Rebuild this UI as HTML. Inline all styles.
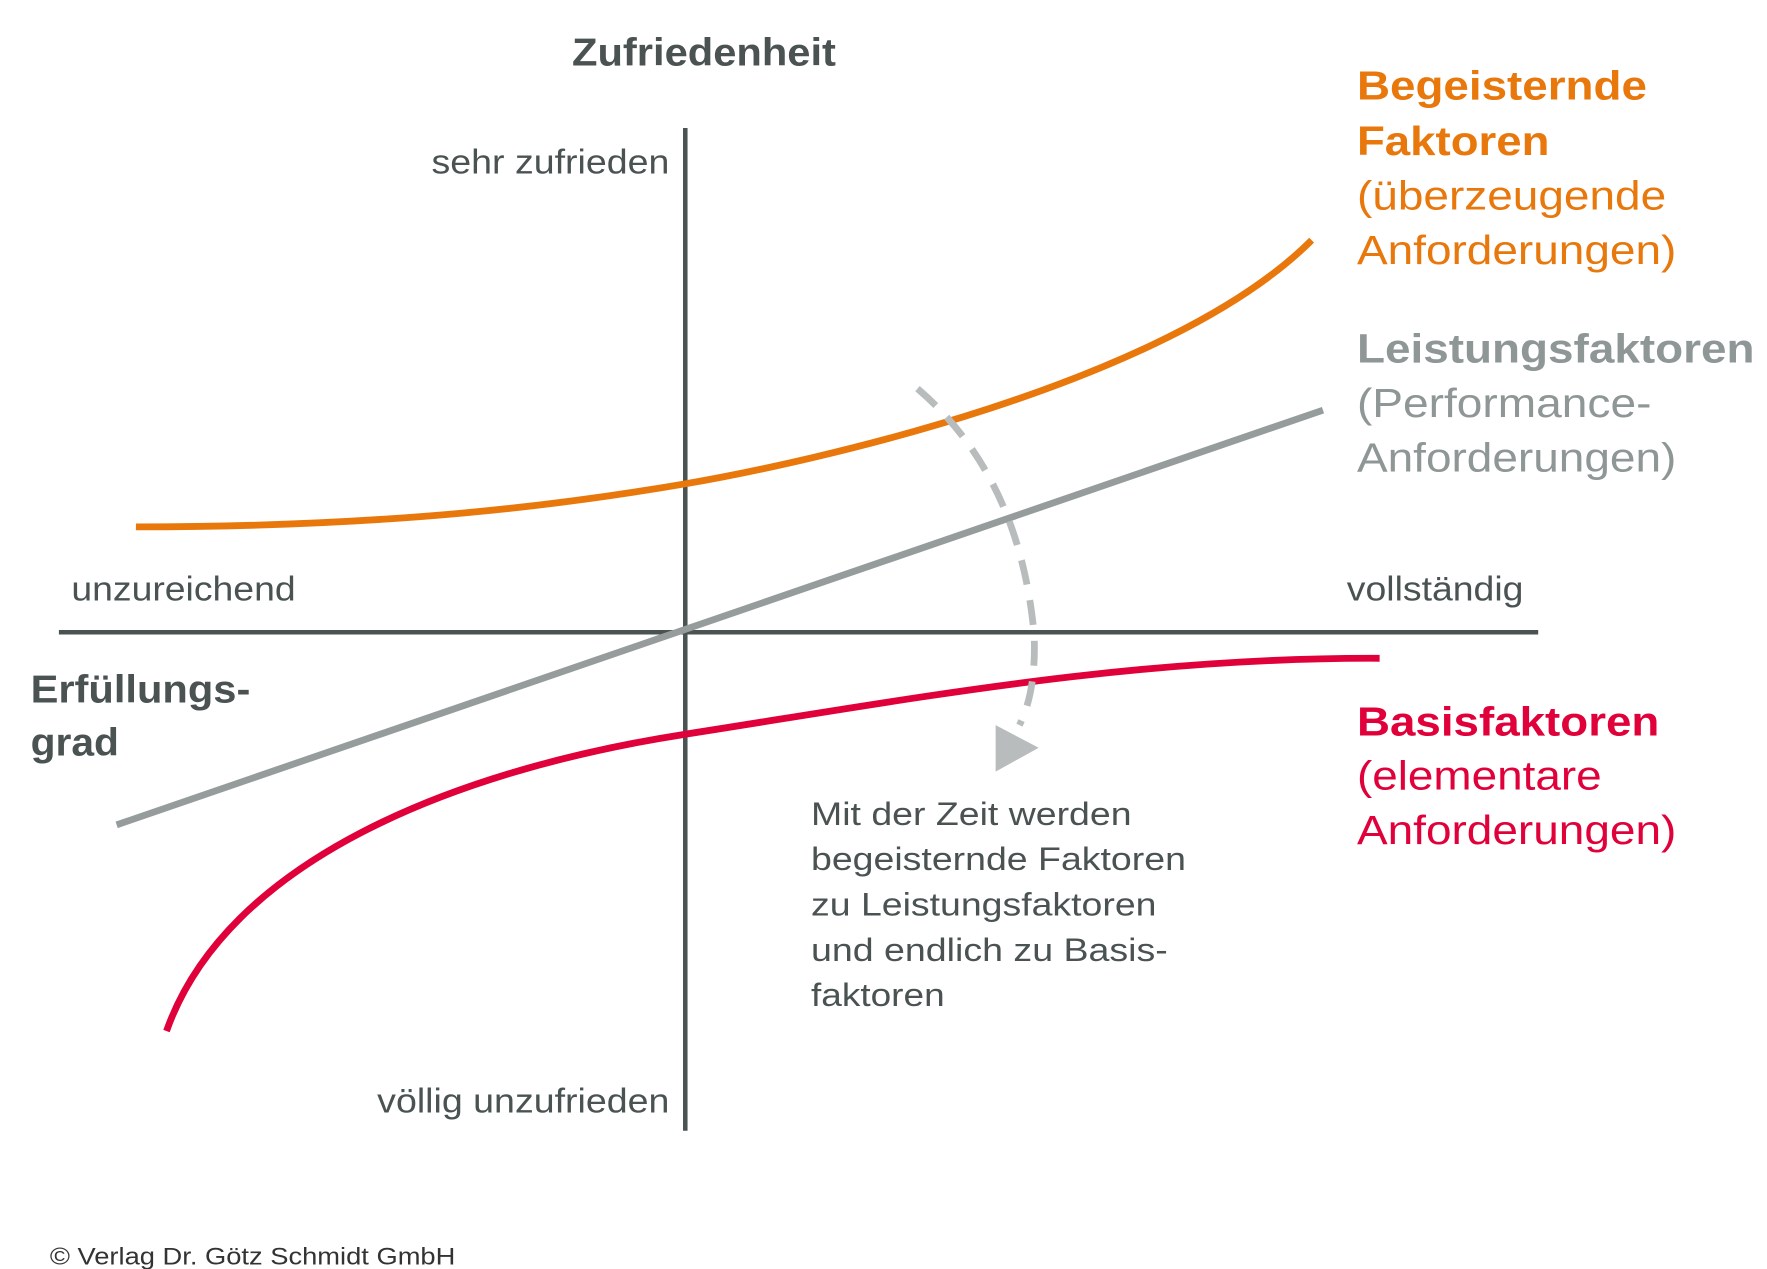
<!DOCTYPE html>
<html><head><meta charset="utf-8"><style>
html,body{margin:0;padding:0;background:#fff;}
svg{display:block;}
text{font-family:"Liberation Sans",sans-serif;}
</style></head><body>
<svg width="1767" height="1269" viewBox="0 0 1560 1120" preserveAspectRatio="none" xmlns="http://www.w3.org/2000/svg">
<rect width="1560" height="1120" fill="#fff"/>
<g fill="#4a5252">
<text x="505" y="58" font-size="34" font-weight="bold" textLength="233" lengthAdjust="spacingAndGlyphs">Zufriedenheit</text>
<text x="381" y="153" font-size="30" textLength="210" lengthAdjust="spacingAndGlyphs">sehr zufrieden</text>
<text x="333" y="982" font-size="30" textLength="258" lengthAdjust="spacingAndGlyphs">völlig unzufrieden</text>
<text x="63" y="530" font-size="30" textLength="198" lengthAdjust="spacingAndGlyphs">unzureichend</text>
<text x="1189" y="530" font-size="30" textLength="156" lengthAdjust="spacingAndGlyphs">vollständig</text>
<text x="27" y="620" font-size="34" font-weight="bold" textLength="194" lengthAdjust="spacingAndGlyphs">Erfüllungs-</text>
<text x="27" y="667" font-size="34" font-weight="bold" textLength="78" lengthAdjust="spacingAndGlyphs">grad</text>
<text x="716" y="728" font-size="29" textLength="283" lengthAdjust="spacingAndGlyphs">Mit der Zeit werden</text>
<text x="716" y="768" font-size="29" textLength="331" lengthAdjust="spacingAndGlyphs">begeisternde Faktoren</text>
<text x="716" y="808" font-size="29" textLength="305" lengthAdjust="spacingAndGlyphs">zu Leistungsfaktoren</text>
<text x="716" y="848" font-size="29" textLength="315" lengthAdjust="spacingAndGlyphs">und endlich zu Basis-</text>
<text x="716" y="888" font-size="29" textLength="118" lengthAdjust="spacingAndGlyphs">faktoren</text>
<text x="44" y="1116" font-size="21" fill="#333" textLength="358" lengthAdjust="spacingAndGlyphs">© Verlag Dr. Götz Schmidt GmbH</text>
</g>
<g fill="#e8780c">
<text x="1198" y="88" font-size="36" font-weight="bold" textLength="256" lengthAdjust="spacingAndGlyphs">Begeisternde</text>
<text x="1198" y="137" font-size="36" font-weight="bold" textLength="170" lengthAdjust="spacingAndGlyphs">Faktoren</text>
<text x="1198" y="185" font-size="36" textLength="273" lengthAdjust="spacingAndGlyphs">(überzeugende</text>
<text x="1198" y="233" font-size="36" textLength="282" lengthAdjust="spacingAndGlyphs">Anforderungen)</text>
</g>
<g fill="#8f9696">
<text x="1198" y="320" font-size="36" font-weight="bold" textLength="351" lengthAdjust="spacingAndGlyphs">Leistungsfaktoren</text>
<text x="1198" y="368" font-size="36" textLength="260" lengthAdjust="spacingAndGlyphs">(Performance-</text>
<text x="1198" y="416" font-size="36" textLength="282" lengthAdjust="spacingAndGlyphs">Anforderungen)</text>
</g>
<g fill="#e0003a">
<text x="1198" y="649" font-size="36" font-weight="bold" textLength="267" lengthAdjust="spacingAndGlyphs">Basisfaktoren</text>
<text x="1198" y="697" font-size="36" textLength="216" lengthAdjust="spacingAndGlyphs">(elementare</text>
<text x="1198" y="745" font-size="36" textLength="282" lengthAdjust="spacingAndGlyphs">Anforderungen)</text>
</g>
<line x1="605" y1="113" x2="605" y2="998" stroke="#4a5252" stroke-width="4"/>
<line x1="52" y1="558" x2="1358" y2="558" stroke="#4a5252" stroke-width="4"/>
<line x1="103" y1="728" x2="1168" y2="362" stroke="#969c9c" stroke-width="6"/>
<path d="M120,465 C350,465 500,445 605,427 S1030,340 1158,212" fill="none" stroke="#e8780c" stroke-width="6"/>
<path d="M147,910 C200,760 400,680 605,648 S1000,580 1218,581" fill="none" stroke="#e0003a" stroke-width="6"/>
<path d="M810,343 Q900,420 913,560 Q915,610 900,640" fill="none" stroke="#b8bcbc" stroke-width="6" stroke-dasharray="22,14"/>
<polygon points="879,640 879,681 917,660" fill="#b8bcbc"/>
</svg>
</body></html>
